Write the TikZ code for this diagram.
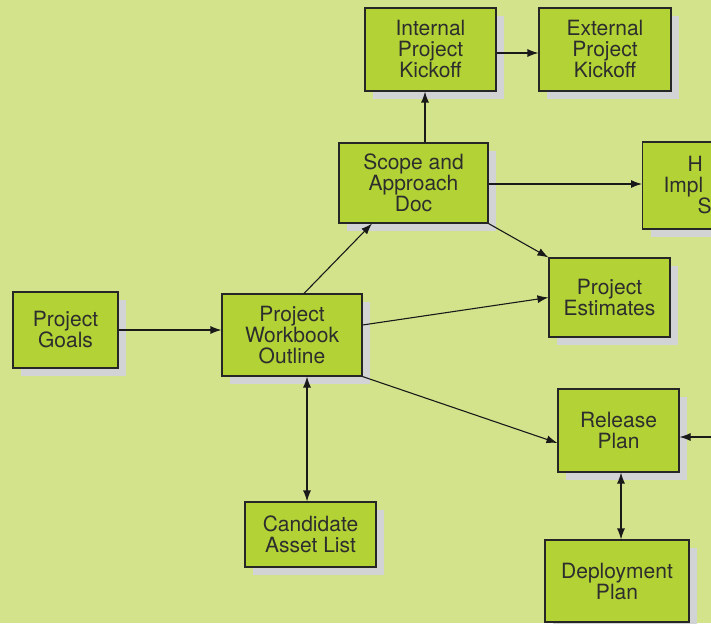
\documentclass[tikz,border=0pt]{standalone}
\usepackage{fontspec}
\newfontfamily\boxfont{TeX Gyre Heros}
\usetikzlibrary{arrows.meta,shadows}
\definecolor{pagegreen}{RGB}{211,227,140}
\definecolor{boxgreen}{RGB}{178,210,53}
\definecolor{shadowgrey}{RGB}{209,211,212}
\definecolor{inkgrey}{RGB}{45,45,45}
\begin{document}
\begin{tikzpicture}
	[x=1pt,y=-1pt%
	,blk/.style={rectangle,%
		fill=boxgreen,%
		draw=black!85,%
		line width=1.1pt,%
		inner sep=0pt,%
		align=center,%
		text=inkgrey,%
		font={\boxfont\fontsize{21}{21}\selectfont},%
		drop shadow={shadow xshift=8pt,shadow yshift=-8pt,fill=shadowgrey,opacity=1}}%
	,link/.style={draw=black!90,line width=1.1pt,-{Latex[length=11pt,width=8pt]}}%
	,dlink/.style={link,{Latex[length=11pt,width=8pt]}-{Latex[length=11pt,width=8pt]}}]
	\useasboundingbox[fill=pagegreen] (0,0) rectangle (711,623);
	% boxes
	\node[blk,minimum width=105pt,minimum height=76pt] (goals) at (65.5,330) {Project\\Goals};
	\node[blk,minimum width=140pt,minimum height=82pt] (workbook) at (292,335) {Project\\Workbook\\Outline};
	\node[blk,minimum width=149pt,minimum height=80pt] (scope) at (413.5,183) {Scope and\\Approach\\Doc};
	\node[blk,minimum width=131pt,minimum height=83pt] (intkick) at (430.5,49.5) {Internal\\Project\\Kickoff};
	\node[blk,minimum width=132pt,minimum height=83pt] (extkick) at (605,49.5) {External\\Project\\Kickoff};
	\node[blk,anchor=west,text width=100pt,inner xsep=10pt,minimum height=87pt,align=left] (impl) at (642,185.5)
		{\hspace*{35pt}H\\\hspace*{11pt}Impl\\\hspace*{45pt}S};
	\node[blk,minimum width=121pt,minimum height=79pt] (estim) at (609.5,297.5) {Project\\Estimates};
	\node[blk,minimum width=121pt,minimum height=83pt] (release) at (618.5,430.5) {Release\\Plan};
	\node[blk,minimum width=144pt,minimum height=82pt] (deploy) at (617,581) {Deployment\\Plan};
	\node[blk,minimum width=131pt,minimum height=65pt] (assets) at (310.5,534.5) {Candidate\\Asset List};
	\coordinate (relin) at (711,437);
	% connectors
	\draw[link] ([yshift=0pt]goals.east) -- ([yshift=0pt]goals.east -| workbook.west);
	\draw[link] ([xshift=12pt]workbook.north) -- ([xshift=-41.5pt]scope.south);
	\draw[link] ([yshift=10pt]workbook.east) -- (estim.west);
	\draw[link] (workbook.south east) -- ([yshift=-12.5pt]release.west);
	\draw[dlink] ([xshift=15pt]workbook.south) -- ([xshift=-3.5pt]assets.north);
	\draw[link] ([xshift=-5.5pt]scope.north -| intkick) -- ([xshift=-5.5pt]intkick.south);
	\draw[link] ([yshift=-3.5pt]intkick.east) -- ([yshift=-3.5pt]intkick.east -| extkick.west);
	\draw[link] ([yshift=-1pt]scope.east) -- ([yshift=-1pt]scope.east -| impl.west);
	\draw[link] (scope.south east) -- (estim.north west);
	\draw[link] (relin) -- (relin -| release.east);
	\draw[dlink] ([xshift=2.5pt]release.south) -- ([xshift=2.5pt]release.south |- deploy.north);
\end{tikzpicture}
\end{document}
